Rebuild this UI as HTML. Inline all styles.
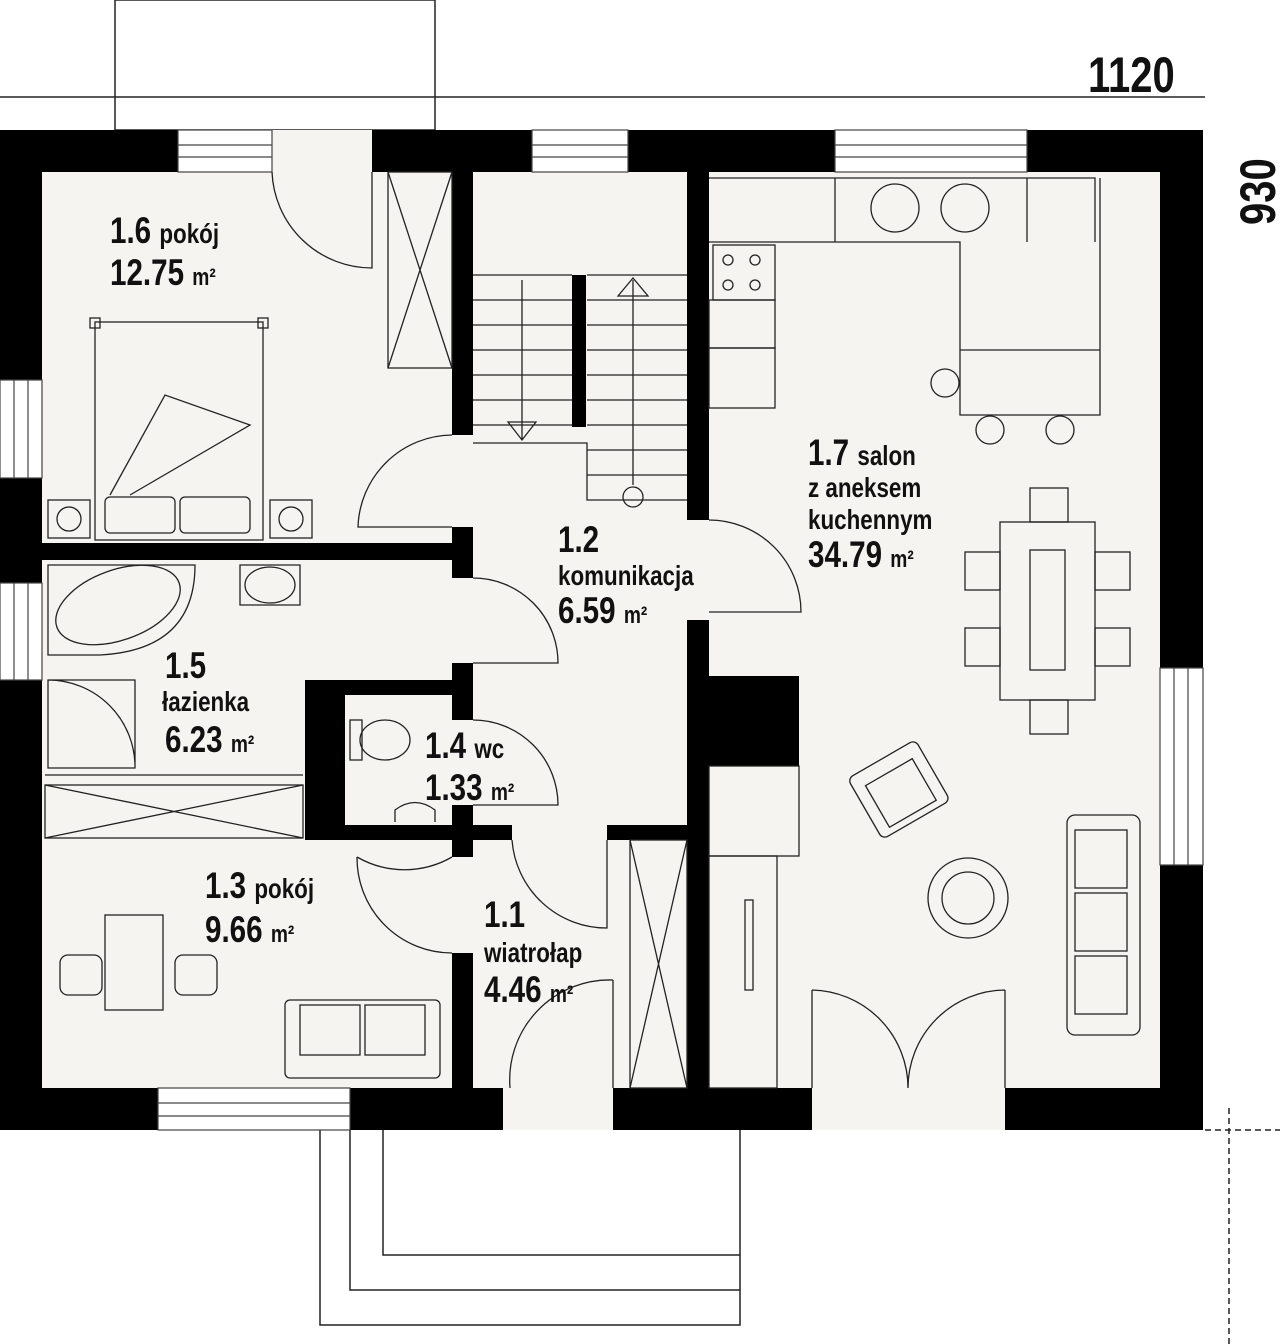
<!DOCTYPE html>
<html><head><meta charset="utf-8"><style>
html,body{margin:0;padding:0;background:#fff;}
svg{display:block}
text{font-family:"Liberation Sans",sans-serif;fill:#111;font-weight:bold}
</style></head><body>
<svg width="1280" height="1344" viewBox="0 0 1280 1344" xmlns="http://www.w3.org/2000/svg">
<g stroke="#222" stroke-width="1.5" fill="none">
<rect x="115" y="0" width="320" height="130"/>
<line x1="0" y1="97" x2="1205" y2="97"/>
<path d="M320 1130 V1325 H740 V1130"/>
<path d="M350 1130 V1290 H740"/>
<path d="M383 1130 V1255 H740"/>
<line x1="1229" y1="1108" x2="1229" y2="1344" stroke-dasharray="6,4"/>
<line x1="1205" y1="1130" x2="1280" y2="1130" stroke-dasharray="6,4"/>
</g>
<g transform="translate(1088,92) scale(0.8,1)"><text font-size="50">1120</text></g>
<g transform="translate(1275,225) rotate(-90) scale(0.8,1)"><text font-size="50">930</text></g>
<rect x="0" y="130" width="1203" height="1000" fill="#f6f4f1"/>
<g fill="#000">
<rect x="0" y="130" width="178" height="42"/>
<rect x="372" y="130" width="160" height="42"/>
<rect x="628" y="130" width="207" height="42"/>
<rect x="1027" y="130" width="176" height="42"/>
<rect x="0" y="130" width="42" height="250"/>
<rect x="0" y="478" width="42" height="105"/>
<rect x="0" y="680" width="42" height="450"/>
<rect x="1160" y="130" width="43" height="538"/>
<rect x="1160" y="865" width="43" height="265"/>
<rect x="0" y="1088" width="158" height="42"/>
<rect x="350" y="1088" width="153" height="42"/>
<rect x="613" y="1088" width="199" height="42"/>
<rect x="1005" y="1088" width="198" height="42"/>
<rect x="452" y="172" width="21" height="263"/>
<rect x="452" y="527" width="21" height="51"/>
<rect x="452" y="663" width="21" height="57"/>
<rect x="452" y="805" width="21" height="52"/>
<rect x="452" y="953" width="21" height="135"/>
<rect x="687" y="172" width="22" height="348"/>
<rect x="687" y="620" width="22" height="468"/>
<rect x="42" y="543" width="431" height="17"/>
<rect x="305" y="680" width="168" height="15"/>
<rect x="305" y="680" width="40" height="160"/>
<rect x="305" y="825" width="207" height="15"/>
<rect x="607" y="825" width="80" height="15"/>
<rect x="572" y="275" width="14" height="152"/>
<rect x="709" y="676" width="90" height="90"/>
</g>
<g stroke="#444" stroke-width="1.2" fill="#fff">
<rect x="178" y="130" width="94" height="42"/>
<line x1="178" y1="145" x2="272" y2="145"/><line x1="178" y1="157" x2="272" y2="157"/>
<rect x="532" y="130" width="96" height="42"/>
<line x1="532" y1="145" x2="628" y2="145"/><line x1="532" y1="157" x2="628" y2="157"/>
<rect x="835" y="130" width="192" height="42"/>
<line x1="835" y1="145" x2="1027" y2="145"/><line x1="835" y1="157" x2="1027" y2="157"/>
<rect x="0" y="380" width="42" height="98"/>
<line x1="14" y1="380" x2="14" y2="478"/><line x1="28" y1="380" x2="28" y2="478"/>
<rect x="0" y="583" width="42" height="97"/>
<line x1="14" y1="583" x2="14" y2="680"/><line x1="28" y1="583" x2="28" y2="680"/>
<rect x="1160" y="668" width="43" height="197"/>
<line x1="1174" y1="668" x2="1174" y2="865"/><line x1="1188" y1="668" x2="1188" y2="865"/>
<rect x="158" y="1088" width="192" height="42"/>
<line x1="158" y1="1103" x2="350" y2="1103"/><line x1="158" y1="1116" x2="350" y2="1116"/>
</g>
<g stroke="#222" stroke-width="1.3" fill="none">
<path d="M272 172 A100 100 0 0 0 372 268 V172"/>
<path d="M452 435 A95 95 0 0 0 358 527 H452"/>
<path d="M473 578 A85 85 0 0 1 558 663 H473"/>
<path d="M709 520 A92 92 0 0 1 801 612 H709"/>
<path d="M473 720 A85 85 0 0 1 558 805 H473"/>
<path d="M512 840 A95 95 0 0 0 607 928 V840"/>
<path d="M452 857 A95 95 0 0 1 357 857 M357 857 A95 95 0 0 0 452 953"/>
<path d="M613 980 A100 100 0 0 0 510 1088 M613 980 V1088"/>
<path d="M812 990 A98 98 0 0 1 908 1088 M1005 990 A98 98 0 0 0 908 1088 M812 990 V1088 M1005 990 V1088"/>
<rect x="388" y="172" width="64" height="196"/><path d="M388 172 L452 368 M452 172 L388 368"/>
<rect x="630" y="840" width="57" height="248"/><path d="M630 840 L687 1088 M687 840 L630 1088"/>
<rect x="45" y="785" width="258" height="53"/><path d="M45 785 L303 838 M303 785 L45 838"/>
<path d="M473 275 H572 M473 300 H572 M473 325 H572 M473 350 H572 M473 375 H572 M473 400 H572 M473 425 H572 M473 443 H587 V500 H687"/>
<path d="M587 275 H687 M587 300 H687 M587 325 H687 M587 350 H687 M587 375 H687 M587 400 H687 M587 425 H687 M587 450 H687 M587 475 H687"/>
<path d="M522 280 V440 M508 422 L522 440 L536 422 Z"/>
<path d="M633 485 V280 M618 296 L633 278 L648 296 Z"/><circle cx="633" cy="497" r="10"/>
<rect x="95" y="322" width="168" height="218"/>
<rect x="90" y="318" width="10" height="10"/><rect x="258" y="318" width="10" height="10"/>
<rect x="105" y="497" width="70" height="36" rx="5"/><rect x="180" y="497" width="70" height="36" rx="5"/>
<path d="M110 495 L165 395 L250 425 L130 495"/>
<rect x="48" y="500" width="42" height="38"/><circle cx="69" cy="519" r="12"/>
<rect x="270" y="500" width="42" height="38"/><circle cx="291" cy="519" r="12"/>
<path d="M48 565 H195 Q195 650 100 655 H48 Z"/><ellipse cx="118" cy="605" rx="65" ry="35" transform="rotate(-20 118 605)"/>
<path d="M48 680 H135 V768 H48 Z M48 680 A87 87 0 0 1 135 768"/>
<path d="M45 775 H303"/>
<path d="M240 565 H300 V605 H240 Z"/><ellipse cx="270" cy="585" rx="25" ry="18"/>
<rect x="350" y="720" width="12" height="40"/><ellipse cx="385" cy="740" rx="25" ry="20"/>
<path d="M395 822 V810 Q415 795 435 810 V822"/>
<path d="M709 178 H1095 V242 M709 242 H960 V350 H1100 V178 M960 350 V415 H1100 V350"/>
<path d="M835 178 V242 M1027 178 V242"/>
<circle cx="895" cy="208" r="24"/><circle cx="965" cy="208" r="24"/>
<rect x="713" y="245" width="62" height="55"/>
<circle cx="728" cy="260" r="5"/><circle cx="755" cy="260" r="5"/><circle cx="728" cy="285" r="5"/><circle cx="755" cy="285" r="5"/>
<rect x="709" y="300" width="66" height="48"/><rect x="709" y="348" width="66" height="60"/>
<circle cx="945" cy="383" r="14"/><circle cx="990" cy="430" r="14"/><circle cx="1060" cy="430" r="14"/>
<rect x="1000" y="522" width="95" height="178"/><rect x="1030" y="550" width="35" height="120"/>
<rect x="1030" y="488" width="38" height="34"/><rect x="1030" y="700" width="38" height="34"/>
<rect x="965" y="552" width="35" height="38"/><rect x="965" y="628" width="35" height="38"/>
<rect x="1095" y="552" width="35" height="38"/><rect x="1095" y="628" width="35" height="38"/>
<g transform="rotate(-30 898 790)"><rect x="860" y="755" width="78" height="70" rx="6"/><rect x="872" y="770" width="54" height="48"/></g>
<circle cx="968" cy="898" r="40"/><circle cx="968" cy="898" r="26"/>
<rect x="1067" y="815" width="73" height="220" rx="8"/>
<rect x="1075" y="830" width="52" height="58"/><rect x="1075" y="893" width="52" height="58"/><rect x="1075" y="956" width="52" height="58"/>
<rect x="709" y="766" width="90" height="90"/>
<rect x="709" y="856" width="68" height="232"/>
<rect x="745" y="900" width="8" height="90"/>
<rect x="105" y="915" width="58" height="95"/>
<rect x="60" y="955" width="42" height="40" rx="8"/><rect x="175" y="955" width="42" height="40" rx="8"/>
<rect x="285" y="1000" width="155" height="78" rx="5"/>
<rect x="300" y="1005" width="60" height="50"/><rect x="365" y="1005" width="60" height="50"/>
</g>
<g transform="translate(110,243) scale(0.8,1)"><text font-size="37">1.6 <tspan font-size="28">pokój</tspan></text></g>
<g transform="translate(110,285) scale(0.8,1)"><text font-size="37">12.75 <tspan font-size="24">m²</tspan></text></g>
<g transform="translate(558,552) scale(0.8,1)"><text font-size="37">1.2</text></g>
<g transform="translate(558,585) scale(0.8,1)"><text font-size="28">komunikacja</text></g>
<g transform="translate(558,623) scale(0.8,1)"><text font-size="37">6.59 <tspan font-size="24">m²</tspan></text></g>
<g transform="translate(808,465) scale(0.8,1)"><text font-size="37">1.7 <tspan font-size="28">salon</tspan></text></g>
<g transform="translate(808,497) scale(0.8,1)"><text font-size="28">z aneksem</text></g>
<g transform="translate(808,529) scale(0.8,1)"><text font-size="28">kuchennym</text></g>
<g transform="translate(808,567) scale(0.8,1)"><text font-size="37">34.79 <tspan font-size="24">m²</tspan></text></g>
<g transform="translate(165,678) scale(0.8,1)"><text font-size="37">1.5</text></g>
<g transform="translate(162,711) scale(0.8,1)"><text font-size="28">łazienka</text></g>
<g transform="translate(165,752) scale(0.8,1)"><text font-size="37">6.23 <tspan font-size="24">m²</tspan></text></g>
<g transform="translate(425,758) scale(0.8,1)"><text font-size="37">1.4 <tspan font-size="28">wc</tspan></text></g>
<g transform="translate(425,800) scale(0.8,1)"><text font-size="37">1.33 <tspan font-size="24">m²</tspan></text></g>
<g transform="translate(205,898) scale(0.8,1)"><text font-size="37">1.3 <tspan font-size="28">pokój</tspan></text></g>
<g transform="translate(205,942) scale(0.8,1)"><text font-size="37">9.66 <tspan font-size="24">m²</tspan></text></g>
<g transform="translate(484,927) scale(0.8,1)"><text font-size="37">1.1</text></g>
<g transform="translate(484,962) scale(0.8,1)"><text font-size="28">wiatrołap</text></g>
<g transform="translate(484,1002) scale(0.8,1)"><text font-size="37">4.46 <tspan font-size="24">m²</tspan></text></g>
</svg>
</body></html>
